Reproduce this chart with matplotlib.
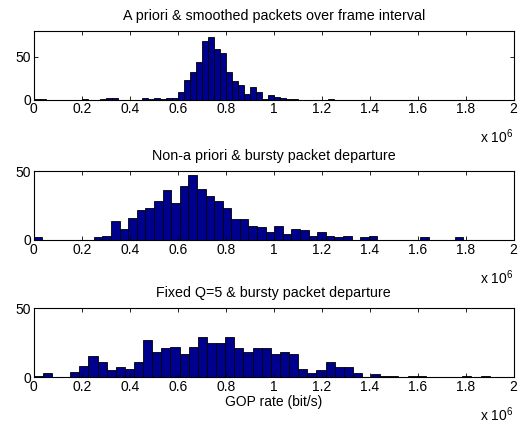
import numpy as np
import matplotlib.pyplot as plt

plt.rcParams['font.family'] = 'Liberation Sans'
plt.rcParams['font.size'] = 10
plt.rcParams['mathtext.default'] = 'regular'

# histogram counts (50 bins each) of GOP rate, bins spanning 0..max rate
apriori_max = 1.2525e6
apriori_counts = [1, 1, 0, 0, 0, 0, 0, 0, 1, 0,
                  0, 1, 2, 2, 0, 0, 0, 0, 2, 1,
                  2, 1, 2, 2, 9, 23, 32, 44, 68, 73,
                  59, 55, 32, 22, 17, 7, 15, 9, 1, 5,
                  3, 2, 1, 1, 0, 0, 0, 0, 0, 1]

bursty_max = 1.79e6
bursty_counts = [2, 0, 0, 0, 0, 0, 0, 2, 3, 14,
                 8, 16, 22, 23, 28, 36, 27, 39, 47, 37,
                 32, 28, 23, 15, 15, 10, 9, 6, 10, 4,
                 8, 7, 3, 6, 3, 2, 3, 0, 2, 3,
                 0, 0, 0, 0, 0, 2, 0, 0, 0, 2]

fixedq_max = 1.9e6
fixedq_counts = [1, 3, 0, 0, 4, 8, 15, 11, 5, 7,
                 6, 11, 27, 18, 21, 22, 17, 22, 29, 25,
                 25, 29, 21, 18, 21, 21, 17, 18, 17, 6,
                 3, 5, 11, 7, 7, 3, 0, 2, 1, 1,
                 0, 1, 1, 0, 0, 0, 0, 1, 0, 1]

titles = ['A priori & smoothed packets over frame interval',
          'Non-a priori & bursty packet departure',
          'Fixed Q=5 & bursty packet departure']
ylims = [80, 50, 50]

fig = plt.figure(figsize=(5.2, 4.26), dpi=100)
bottoms = [0.766, 0.437, 0.115]
panels = [(apriori_max, apriori_counts), (bursty_max, bursty_counts),
          (fixedq_max, fixedq_counts)]

for i, (mx, counts) in enumerate(panels):
    ax = fig.add_axes([0.0648, bottoms[i], 0.923, 0.161])
    edges = np.linspace(0, mx, len(counts) + 1)
    ax.bar(edges[:-1], counts, width=np.diff(edges), align='edge',
           color='#00008F', edgecolor='black', linewidth=0.6)
    ax.set_xlim(0, 2e6)
    ax.set_ylim(0, ylims[i])
    ax.set_xticks(np.arange(0, 2.01e6, 0.2e6))
    ax.set_xticklabels(['0', '0.2', '0.4', '0.6', '0.8', '1', '1.2', '1.4', '1.6', '1.8', '2'])
    ax.set_yticks([0, 50])
    ax.tick_params(direction='in', top=True, right=True, length=3, width=0.6, pad=2)
    for s in ax.spines.values():
        s.set_linewidth(0.8)
    ax.set_title(titles[i], fontsize=10.3, pad=8)
    # exponent label sits under the tick labels
    ax.annotate(r'x 10$^6$', xy=(1, 0), xycoords='axes fraction',
                xytext=(0, -27), textcoords='offset points',
                ha='right', va='center')
    if i == 2:
        ax.set_xlabel('GOP rate (bit/s)', labelpad=1)

fig.savefig('out.png', dpi=100)
